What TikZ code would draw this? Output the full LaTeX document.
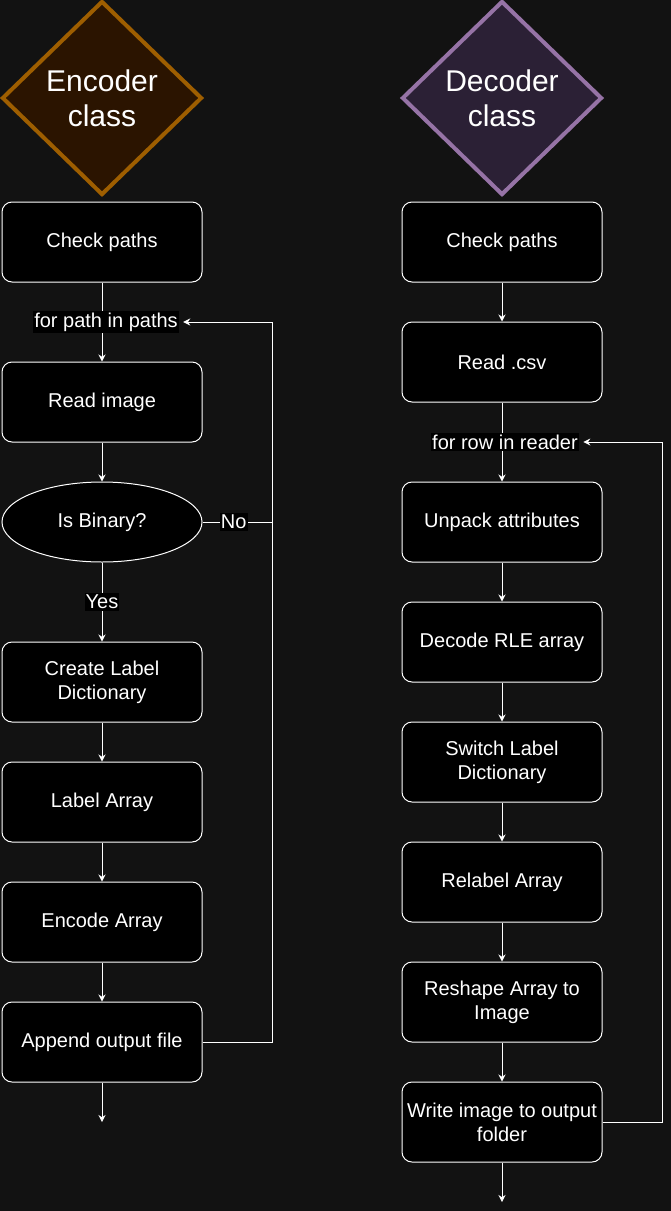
\documentclass[tikz,border=0pt]{standalone}
\usepackage{fontspec}
\setmainfont{Liberation Sans}
\usetikzlibrary{shapes.geometric,arrows.meta}

\definecolor{bgdark}{HTML}{121212}
\definecolor{encline}{HTML}{9E5E00}
\definecolor{encfill}{HTML}{2B1400}
\definecolor{decline}{HTML}{9673A6}
\definecolor{decfill}{HTML}{2B2035}

\tikzset{
	stepbox/.style={draw=white, fill=black, line width=1pt, rounded corners=10pt,
		minimum width=200pt, minimum height=80pt, inner sep=0pt, text=white,
		align=center, font=\fontsize{20}{24}\selectfont},
	testbox/.style={ellipse, draw=white, fill=black, line width=1pt,
		minimum width=200pt, minimum height=80pt, inner sep=0pt, text=white,
		font=\fontsize{20}{24}\selectfont},
	classbox/.style={diamond, line width=4pt, minimum width=200pt, minimum height=194pt,
		inner sep=0pt, text=white, align=center, font=\fontsize{30}{35}\selectfont},
	edgelabel/.style={fill=black, text=white, inner xsep=1pt, inner ysep=2pt,
		font=\fontsize{20}{22}\selectfont},
	flow/.style={draw=white, line width=1pt, -{Stealth[length=7pt,width=7pt]}},
	wire/.style={draw=white, line width=1pt}
}

\begin{document}
\begin{tikzpicture}[x=1pt,y=-1pt]
	
	\useasboundingbox[fill=bgdark] (0,0) rectangle (671,1211);
	
	% encoder column
	\node[classbox, draw=encline, fill=encfill] (enc) at (102, 98) {Encoder\\class};
	
	\node[stepbox] (chkE) at (102, 242) {Check paths};
	\node[stepbox] (readimg) at (102, 402) {Read image};
	\node[testbox] (binary) at (102, 522) {Is Binary?};
	\node[stepbox] (labdict) at (102, 682) {Create Label\\Dictionary};
	\node[stepbox] (labarr) at (102, 802) {Label Array};
	\node[stepbox] (encarr) at (102, 922) {Encode Array};
	\node[stepbox] (append) at (102, 1042) {Append output file};
	\coordinate (endE) at (102, 1122);
	\coordinate (loopE) at (272, 0);
	
	\draw[flow] (chkE) -- node[edgelabel, xshift=4pt] (forpath) {for path in paths} (readimg);
	\draw[flow] (readimg) -- (binary);
	\draw[flow] (binary) -- node[edgelabel] (yes) {Yes} (labdict);
	\draw[flow] (labdict) -- (labarr);
	\draw[flow] (labarr) -- (encarr);
	\draw[flow] (encarr) -- (append);
	\draw[flow] (append) -- (endE);
	
	\draw[wire] (binary.east) -- node[edgelabel, pos=0.45] (no) {No} (loopE |- binary.east);
	\draw[flow, shorten >=4pt] (append.east) -| (loopE |- forpath.east) -- (forpath.east);
	
	% decoder column
	\node[classbox, draw=decline, fill=decfill] (dec) at (502, 98) {Decoder\\class};
	
	\node[stepbox] (chkD) at (502, 242) {Check paths};
	\node[stepbox] (readcsv) at (502, 362) {Read .csv};
	\node[stepbox] (unpack) at (502, 522) {Unpack attributes};
	\node[stepbox] (decrle) at (502, 642) {Decode RLE array};
	\node[stepbox] (switch) at (502, 762) {Switch Label\\Dictionary};
	\node[stepbox] (relab) at (502, 882) {Relabel Array};
	\node[stepbox] (reshape) at (502, 1002) {Reshape Array to\\Image};
	\node[stepbox] (write) at (502, 1122) {Write image to output\\folder};
	\coordinate (endD) at (502, 1202);
	\coordinate (loopD) at (662, 0);
	
	\draw[flow] (chkD) -- (readcsv);
	\draw[flow] (readcsv) -- node[edgelabel, xshift=3pt] (forrow) {for row in reader} (unpack);
	\draw[flow] (unpack) -- (decrle);
	\draw[flow] (decrle) -- (switch);
	\draw[flow] (switch) -- (relab);
	\draw[flow] (relab) -- (reshape);
	\draw[flow] (reshape) -- (write);
	\draw[flow] (write) -- (endD);
	
	\draw[flow, shorten >=4pt] (write.east) -| (loopD |- forrow.east) -- (forrow.east);
	
\end{tikzpicture}
\end{document}
